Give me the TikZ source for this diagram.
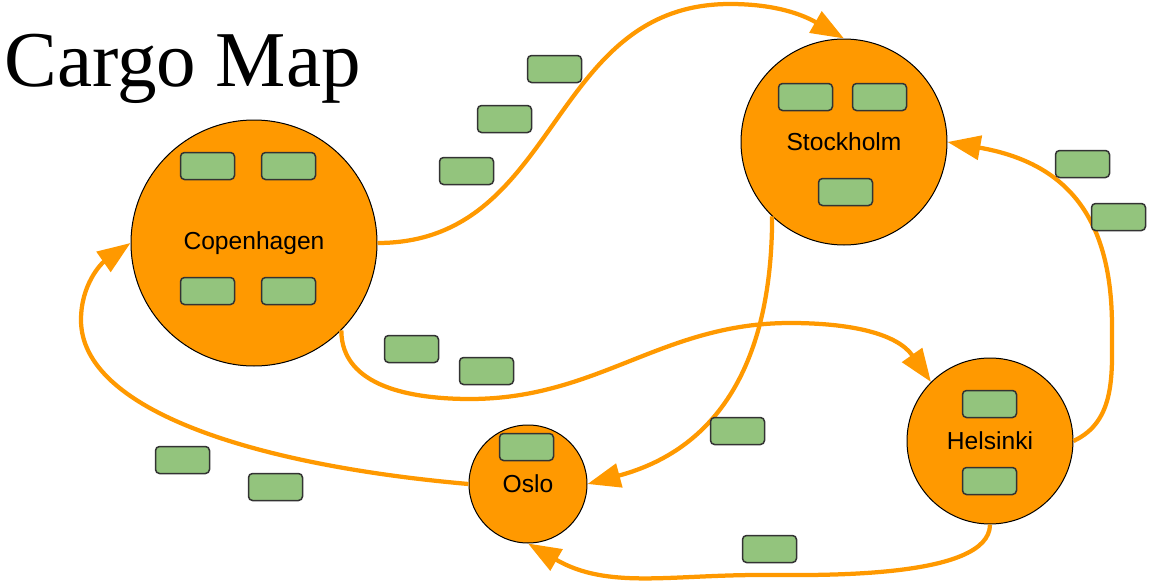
\documentclass[tikz,border=0pt]{standalone}
\usepackage{fontspec}
\setmainfont{Liberation Sans}
\newfontfamily\titlefont{Liberation Serif}
\usetikzlibrary{arrows.meta}
\definecolor{cargoorange}{HTML}{FF9900}
\definecolor{cargogreen}{HTML}{93C47D}
\tikzset{
	city/.style={circle, draw=black, line width=0.2mm, fill=cargoorange, inner sep=0pt, font=\fontsize{14}{16}\selectfont},
	crate/.style={rectangle, rounded corners=0.8mm, draw=black!80, line width=0.3mm, fill=cargogreen, minimum width=1.08cm, minimum height=0.54cm, inner sep=0pt},
	route/.style={line width=0.85mm, color=cargoorange, -{Triangle[length=6.6mm, width=4.8mm]}}
}

\begin{document}
\begin{tikzpicture}
		%%%%% START %%%%%
		\useasboundingbox (0, 0) rectangle (23.02, 11.62);
		
		\node[anchor=base west, inner sep=0pt, font=\titlefont\fontsize{45}{48}\selectfont] (title) at (0.08, 9.88) {Cargo Map};
		
		\node[city, minimum size=4.92cm] (cph) at (5.08, 6.76) {Copenhagen};
		\node[city, minimum size=4.12cm] (sth) at (16.88, 8.78) {Stockholm};
		\node[city, minimum size=2.36cm] (osl) at (10.56, 1.94) {Oslo};
		\node[city, minimum size=3.32cm] (hel) at (19.80, 2.80) {Helsinki};
		
		\coordinate (r1top) at (14.6, 11.54);
		\coordinate (r2low) at (9.4, 3.64);
		\coordinate (r2top) at (15.8, 5.16);
		\coordinate (r4side) at (22.24, 5.08);
		\coordinate (r5low) at (15.2, 0.12);
		\coordinate (r6side) at (1.62, 5.22);
		
		\draw[route] (cph.east) to[out=0, in=180, looseness=1.1] (r1top) to[out=0, in=150] (sth.north);
		\draw[route] (cph.-45) to[out=-90, in=180] (r2low) to[out=0, in=180] (r2top) to[out=0, in=125] (hel.135);
		\draw[route] (sth.-134) to[out=-90, in=15, looseness=1.1] (osl.east);
		\draw[route] (hel.east) to[out=25, in=-90] (r4side) to[out=90, in=-10, looseness=1.2] (sth.east);
		\draw[route] (hel.south) to[out=-90, in=0, looseness=0.6] (r5low) to[out=180, in=-30] (osl.south);
		\draw[route] (osl.west) to[out=175, in=-90, out distance=4.3cm, in distance=1.8cm] (r6side) to[out=90, in=-145] (cph.west);
		
		% crates in the cities
		\node[crate] (cph1) at (4.15, 8.30) {};
		\node[crate] (cph2) at (5.77, 8.30) {};
		\node[crate] (cph3) at (4.15, 5.80) {};
		\node[crate] (cph4) at (5.77, 5.80) {};
		\node[crate] (sth1) at (16.11, 9.68) {};
		\node[crate] (sth2) at (17.59, 9.68) {};
		\node[crate] (sth3) at (16.91, 7.78) {};
		\node[crate] (osl1) at (10.53, 2.68) {};
		\node[crate] (hel1) at (19.79, 3.54) {};
		\node[crate] (hel2) at (19.79, 2.00) {};
		
		% crates on the way
		\node[crate] (way1) at (11.09, 10.24) {};
		\node[crate] (way2) at (10.09, 9.24) {};
		\node[crate] (way3) at (9.33, 8.20) {};
		\node[crate] (way4) at (21.65, 8.34) {};
		\node[crate] (way5) at (22.37, 7.28) {};
		\node[crate] (way6) at (8.23, 4.64) {};
		\node[crate] (way7) at (9.73, 4.20) {};
		\node[crate] (way8) at (14.75, 3.00) {};
		\node[crate] (way9) at (3.65, 2.42) {};
		\node[crate] (way10) at (5.51, 1.88) {};
		\node[crate] (way11) at (15.39, 0.64) {};
		
		%%%%% END %%%%%
	\end{tikzpicture}
\end{document}
